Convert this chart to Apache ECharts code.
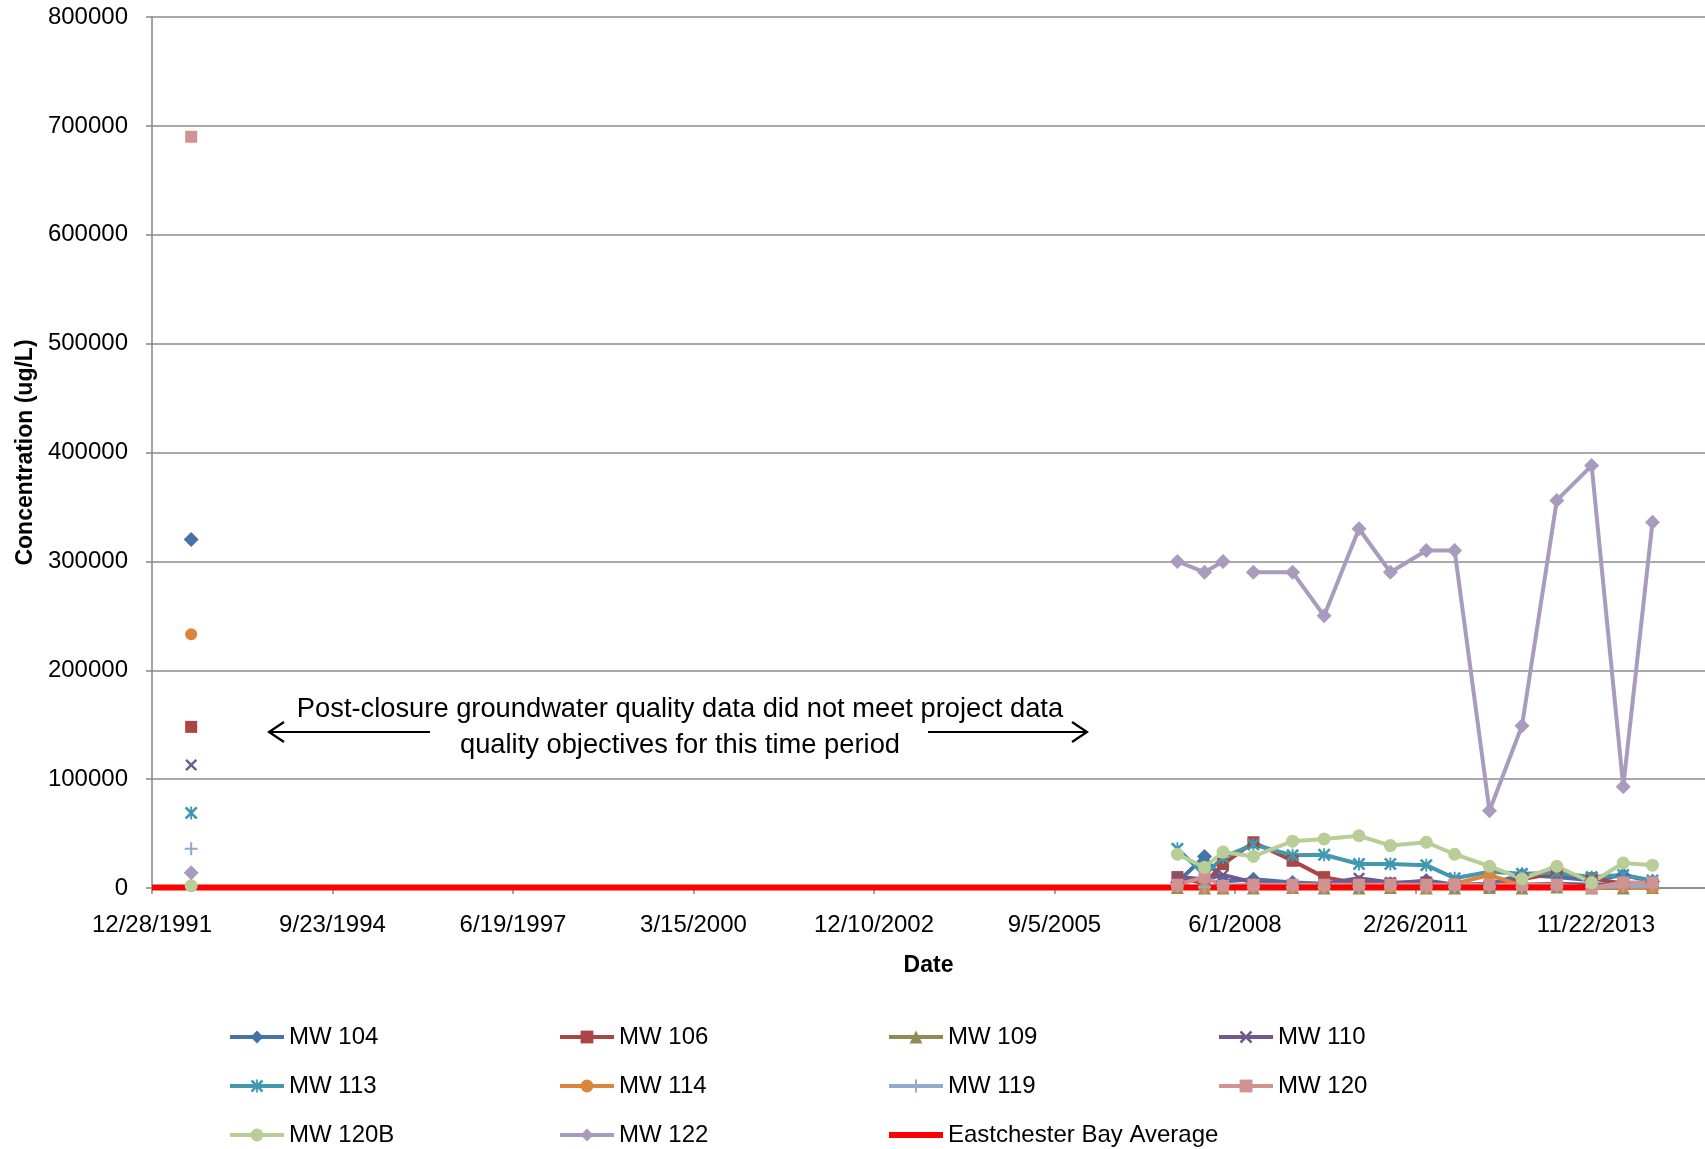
<!DOCTYPE html>
<html><head><meta charset="utf-8">
<script src="https://cdn.jsdelivr.net/npm/echarts@6/dist/echarts.min.js"></script>
<style>html,body{margin:0;padding:0;background:#fff}#c{width:1705px;height:1149px}</style>
</head><body><div id="c"></div>
<script>
// ---- axis range / ticks ----
const axisStart = '1991-12-28';
const axisEnd = '2015-07-19';
const tickIntervalDays = 1000;
const yMax = 800000;
const yInterval = 100000;

// ---- sample dates (first = 1992 event, then post-closure monitoring) ----
const sampleDates = ['1992-08-01',
  '2007-07-18','2007-12-15','2008-03-27','2008-06-15','2008-09-11','2009-04-16','2009-10-08',
  '2010-04-19','2010-10-10','2011-04-27','2011-10-01','2012-04-11','2012-10-08','2013-04-19',
  '2013-10-29','2014-04-22','2014-10-01'];

// ---- concentrations (ug/L) ----
const mw104  = [320000, 5000, 29000, 6000, null, 8000, 5000, 4000, 5000, 4000, 7000, 3000, 4000, 12000, 10000, 7000, 12000, 6000];
const mw106  = [148000, 10000, 4000, 22000, null, 42000, 25000, 10000, 4000, 4000, 5000, 3000, 2000, 8000, 14000, 9000, 4000, 3000];
const mw109  = [null, 500, 0, 0, null, 0, 500, 0, 0, 500, 0, 0, 500, 0, 1000, 0, 0, 500];
const mw110  = [113000, 10000, 8000, 12000, null, 5000, 3000, 4000, 9000, 5000, 5000, 3000, 2000, 3000, 4000, 3000, 4000, 2000];
const mw113  = [69000, 36000, 12000, 28000, null, 40000, 30000, 30500, 22000, 22000, 21000, 9000, 15000, 13000, 14000, 10000, 12000, 7000];
const mw114  = [233000, 1000, 0, 0, null, 1000, 0, 1000, 2000, 1000, 0, 4000, 12000, 2000, 3000, 0, 1000, 0];
const mw119  = [36000, 2000, 1000, 2000, null, 1000, 1000, 1000, 1000, 2000, 1000, 1000, 1000, 1000, 1000, 1000, 2000, 2000];
const mw120  = [690000, 3000, 10000, 2000, null, 3000, 3000, 3000, 3000, 3000, 3000, 3000, 3000, 3000, 3000, 0, 5000, 5000];
const mw120B = [2000, 31000, 19000, 33000, null, 29000, 43000, 45000, 48000, 39000, 42000, 31000, 20000, 8500, 20000, 5000, 23000, 21000];
const mw122  = [14000, 300000, 290000, 300000, null, 290000, 290000, 250000, 330000, 290000, 310000, 310000, 71000, 149000, 356000, 388000, 93000, 336000];

const bayDates = ['1991-12-28', '2013-11-15'];
const bayAverage = [500, 500];

// ---- helpers ----
const DAY = 86400000;
function utc(s){const [y,m,d]=s.split('-').map(Number);return Date.UTC(y,m-1,d);}
const BASE = utc(axisStart);
function toDay(s){return Math.round((utc(s)-BASE)/DAY);}
function fmtDate(v){const d=new Date(BASE+v*DAY);return (d.getUTCMonth()+1)+'/'+d.getUTCDate()+'/'+d.getUTCFullYear();}
function build(vals, keepGaps){
  const out=[];
  vals.forEach((v,i)=>{
    if(i===1) out.push([toDay(sampleDates[0]),'-']);
    if(v==null){ if(keepGaps) out.push([toDay(sampleDates[i]),'-']); return; }
    out.push([toDay(sampleDates[i]), v]);
  });
  return out;
}

const SYM_X = 'path://M1.4,0L5,3.6L8.6,0L10,1.4L6.4,5L10,8.6L8.6,10L5,6.4L1.4,10L0,8.6L3.6,5L0,1.4Z';
const SYM_STAR = 'path://M1.4,0L5,3.6L8.6,0L10,1.4L6.4,5L10,8.6L8.6,10L5,6.4L1.4,10L0,8.6L3.6,5L0,1.4Z M4.3,0L5.7,0L5.7,10L4.3,10Z';
const SYM_PLUS = 'path://M4.2,0H5.8V4.2H10V5.8H5.8V10H4.2V5.8H0V4.2H4.2Z';

const FONT = "'Liberation Sans', Arial, sans-serif";

const defs = [
  ['MW 104', mw104, '#4572A7', 'diamond', 15, false],
  ['MW 106', mw106, '#AA4643', 'rect', 12, false],
  ['MW 109', mw109, '#948A54', 'triangle', 13, false],
  ['MW 110', mw110, '#71588F', SYM_X, 12, false],
  ['MW 113', mw113, '#4198AF', SYM_STAR, 13, false],
  ['MW 114', mw114, '#DB843D', 'circle', 12, false],
  ['MW 119', mw119, '#93A9CF', SYM_PLUS, 13, false],
  ['MW 120', mw120, '#D19392', 'rect', 12, false],
  ['MW 120B', mw120B, '#B9CD96', 'circle', 13, false],
  ['MW 122', mw122, '#A99BBD', 'diamond', 15, true]
];

const series = defs.map(([name, vals, color, sym, size, gaps]) => ({
  name, type:'line', data: build(vals, gaps), connectNulls:false,
  symbol: sym, symbolSize: size, showAllSymbol:true,
  lineStyle:{color, width:4}, itemStyle:{color, borderColor:color, borderWidth:0},
  emphasis:{disabled:true}, animation:false
}));
series.push({
  name:'Eastchester Bay Average', type:'line', symbol:'none',
  data: bayDates.map((d,i)=>[toDay(d), bayAverage[i]]),
  lineStyle:{color:'#FF0000', width:6}, itemStyle:{color:'#FF0000'},
  emphasis:{disabled:true}, animation:false
});

const legendCols = [
  ['MW 104','MW 113','MW 120B'],
  ['MW 106','MW 114','MW 122'],
  ['MW 109','MW 119',{name:'Eastchester Bay Average', icon:'path://M0,0H54V6H0Z'}],
  ['MW 110','MW 120']
];
const legendLefts = [228, 558, 887, 1217];
const legends = legendCols.map((col,i)=>({
  data: col, left: legendLefts[i], top: 1023, orient:'vertical',
  itemWidth: 54, itemHeight: 16, itemGap: 21, padding: 0,
  lineStyle:{width:4},
  textStyle:{fontSize:24, color:'#000', fontFamily:FONT, lineHeight:28},
  selectedMode:false
}));

const chart = echarts.init(document.getElementById('c'), null, {renderer:'canvas'});
chart.setOption({
  animation:false,
  backgroundColor:'#fff',
  grid:{left:152, right:0, top:17, bottom:261},
  xAxis:{
    type:'value', min:0, max:toDay(axisEnd), interval:tickIntervalDays,
    axisLine:{show:true, lineStyle:{color:'#868686', width:1.5}},
    axisTick:{show:true, length:6, lineStyle:{color:'#868686', width:1.5}},
    axisLabel:{formatter:fmtDate, fontSize:24, color:'#000', fontFamily:FONT, margin:25, showMaxLabel:false},
    splitLine:{show:false},
    name:'Date', nameLocation:'middle', nameGap:66,
    nameTextStyle:{fontSize:23, fontWeight:'bold', color:'#000', fontFamily:FONT}
  },
  yAxis:{
    type:'value', min:0, max:yMax, interval:yInterval,
    axisLine:{show:true, lineStyle:{color:'#868686', width:1.5}},
    axisTick:{show:true, length:6, lineStyle:{color:'#868686', width:1.5}},
    axisLabel:{formatter:v=>String(v), fontSize:24, color:'#000', fontFamily:FONT, margin:24},
    splitLine:{show:true, lineStyle:{color:'#8c8c8c', width:1.6}},
    name:'Concentration (ug/L)', nameLocation:'middle', nameGap:114, nameRotate:90,
    nameTextStyle:{fontSize:23, fontWeight:'bold', color:'#000', fontFamily:FONT}
  },
  legend: legends,
  graphic:[
    {type:'text', x:680, y:709, style:{text:'Post-closure groundwater quality data did not meet project data', font:'27.3px '+FONT, fill:'#000', textAlign:'center', textVerticalAlign:'middle'}},
    {type:'text', x:680, y:745, style:{text:'quality objectives for this time period', font:'27.3px '+FONT, fill:'#000', textAlign:'center', textVerticalAlign:'middle'}},
    {type:'polyline', shape:{points:[[430,732],[269,732]]}, style:{stroke:'#000', lineWidth:2.2, fill:null}},
    {type:'polyline', shape:{points:[[284,722],[269,732],[284,742]]}, style:{stroke:'#000', lineWidth:2.2, fill:null}},
    {type:'polyline', shape:{points:[[928,732],[1087,732]]}, style:{stroke:'#000', lineWidth:2.2, fill:null}},
    {type:'polyline', shape:{points:[[1072,722],[1087,732],[1072,742]]}, style:{stroke:'#000', lineWidth:2.2, fill:null}}
  ],
  series
});
</script></body></html>
